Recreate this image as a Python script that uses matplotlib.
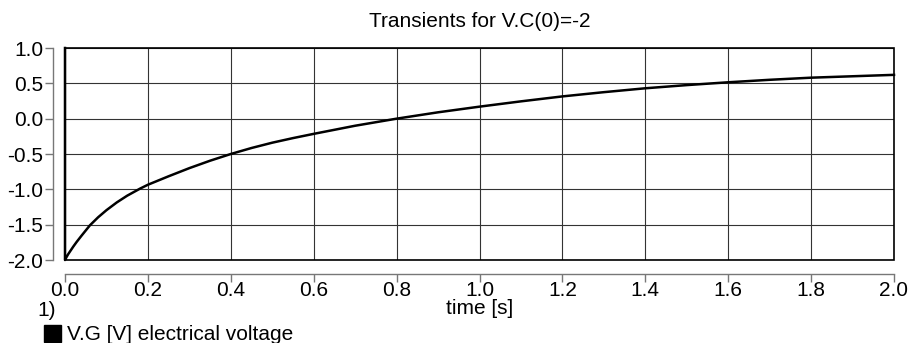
import numpy as np
import matplotlib.pyplot as plt
from matplotlib.patches import Rectangle

plt.rcParams['font.family'] = ['Liberation Sans', 'DejaVu Sans']

# transient of V.G
t = [0.0, 0.0, 0.004, 0.008, 0.012, 0.02, 0.028, 0.04, 0.06, 0.08, 0.1, 0.125,
     0.15, 0.181, 0.2, 0.25, 0.3, 0.35, 0.4, 0.45, 0.5, 0.55, 0.6, 0.7, 0.8, 0.9, 1.0,
     1.1, 1.2, 1.3, 1.4, 1.5, 1.6, 1.7, 1.8, 1.9, 2.0]
vg = [1.0, -2.0, -1.955, -1.915, -1.88, -1.81, -1.745, -1.655, -1.51, -1.395, -1.295, -1.185,
      -1.09, -0.99, -0.935, -0.815, -0.70, -0.595, -0.5, -0.415, -0.34, -0.275, -0.215,
      -0.10, 0.0, 0.09, 0.17, 0.245, 0.315, 0.375, 0.43, 0.475, 0.515, 0.55, 0.58, 0.60, 0.62]

xticks = [0.0, 0.2, 0.4, 0.6, 0.8, 1.0, 1.2, 1.4, 1.6, 1.8, 2.0]
yticks = [-2.0, -1.5, -1.0, -0.5, 0.0, 0.5, 1.0]

fig = plt.figure(figsize=(9.1, 3.43), dpi=100)
ax = fig.add_axes([65/910, 1-260/343, (894-65)/910, (260-48)/343])

ax.plot(t, vg, color='black', lw=1.8, clip_on=False, zorder=4)
ax.set_xlim(0, 2)
ax.set_ylim(-2, 1)

ax.set_xticks(xticks)
ax.set_xticklabels(['%.1f' % v for v in xticks])
ax.set_yticks(yticks)
ax.set_yticklabels(['%.1f' % v for v in yticks])
ax.grid(True, color='#333333', lw=0.8)
ax.set_axisbelow(True)

for s in ['top', 'right']:
    ax.spines[s].set_visible(False)
ax.spines['left'].set_position(('outward', 9))
ax.spines['bottom'].set_position(('outward', 10))
for s in ['left', 'bottom']:
    ax.spines[s].set_color('#777777')
    ax.spines[s].set_linewidth(1.0)
ax.tick_params(direction='out', length=6, width=1.0, color='#777777',
               labelsize=15)
ax.tick_params(axis='x', pad=-1)
ax.tick_params(axis='y', pad=0.5)

# plot frame
ax.add_patch(Rectangle((0, 0), 1, 1, transform=ax.transAxes, fill=False,
                       ec='black', lw=1.2, clip_on=False, zorder=3))

ax.set_title('Transients for V.C(0)=-2', fontsize=15, pad=15)
ax.set_xlabel('time [s]', fontsize=15, va='center')
ax.xaxis.set_label_coords(0.5, (260-309)/212)

fig.text(37/910, 1-310/343, '1)', fontsize=15, va='center', ha='left')
fig.add_artist(Rectangle((44/910, 1-342/343), 17/910, 17/343,
                         transform=fig.transFigure, color='black'))
fig.text(67/910, 1-335/343, 'V.G [V] electrical voltage', fontsize=15,
         va='center', ha='left')

fig.savefig('out.png', dpi=100)
